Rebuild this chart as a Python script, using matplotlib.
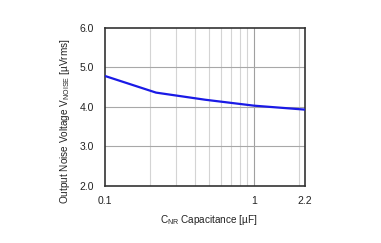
import matplotlib
matplotlib.use("Agg")
import matplotlib.pyplot as plt
from matplotlib.ticker import FixedLocator, NullFormatter

plt.rcParams['font.family'] = ['Liberation Sans', 'DejaVu Sans']
plt.rcParams['mathtext.fontset'] = 'custom'
plt.rcParams['mathtext.rm'] = 'Liberation Sans'

cap_uF = [0.1, 0.22, 0.47, 1.0, 2.2]
noise_uVrms = [4.78, 4.36, 4.18, 4.03, 3.93]
x_ticks = [0.1, 1, 2.2]
x_ticklabels = ["0.1", "1", "2.2"]
x_minor = [0.2, 0.3, 0.4, 0.5, 0.6, 0.7, 0.8, 0.9, 2.0]
y_ticks = [2.0, 3.0, 4.0, 5.0, 6.0]
y_ticklabels = ["2.0", "3.0", "4.0", "5.0", "6.0"]

fig = plt.figure(figsize=(3.81, 2.43), dpi=100)
ax = fig.add_axes([105/381, 1-186/243, 200/381, (186-27.7)/243])

ax.set_xscale('log')
ax.set_xlim(0.1, 2.2)
ax.set_ylim(2.0, 6.0)

for xv in x_minor:
    ax.axvline(xv, color='#d4d4d4', lw=0.8, zorder=1)
ax.axvline(1.0, color='#a0a0a0', lw=0.8, zorder=1)
for yv in [3.0, 4.0, 5.0]:
    ax.axhline(yv, color='#a8a8a8', lw=0.8, zorder=1)

ax.plot(cap_uF, noise_uVrms, color='#1a1ae6', lw=1.6, zorder=3, solid_capstyle='butt')

ax.xaxis.set_major_locator(FixedLocator(x_ticks))
ax.set_xticklabels(x_ticklabels)
ax.xaxis.set_minor_locator(FixedLocator([]))
ax.xaxis.set_minor_formatter(NullFormatter())
ax.set_yticks(y_ticks)
ax.set_yticklabels(y_ticklabels)
ax.tick_params(axis='both', length=0, labelsize=7.5, colors='#222222')
ax.tick_params(axis='x', pad=7)
ax.tick_params(axis='y', pad=8)

for s in ax.spines.values():
    s.set_color('#333333')
    s.set_linewidth(1.2)

ax.set_xlabel(r'C$\mathregular{_{NR}}$ Capacitance [µF]', fontsize=7.2, color='#222222')
ax.set_ylabel(r'Output Noise Voltage V$\mathregular{_{NOISE}}$ [µVrms]', fontsize=7.2, color='#222222')
ax.xaxis.set_label_coords(0.52, -0.17)
ax.yaxis.set_label_coords(-0.165, 0.41)

fig.savefig('out.png', dpi=100)
